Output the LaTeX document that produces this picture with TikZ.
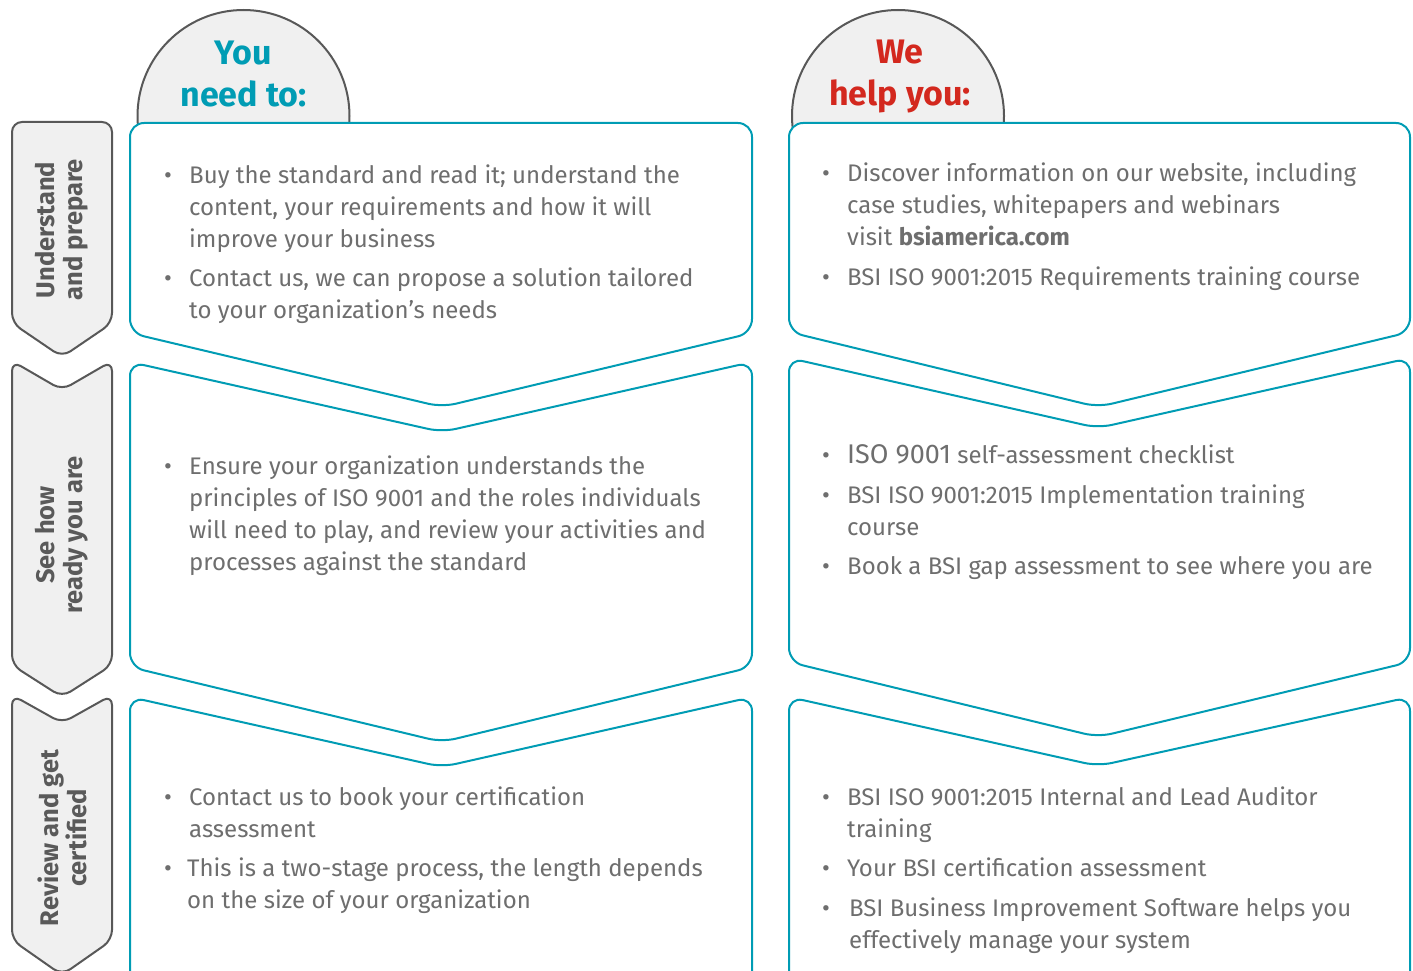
\documentclass[tikz,border=0pt]{standalone}
\usepackage{fontspec}
\setmainfont{Fira Sans}
\definecolor{teal}{RGB}{0,156,180}
\definecolor{bsired}{RGB}{211,40,30}
\definecolor{tabfill}{RGB}{240,240,240}
\definecolor{tabline}{RGB}{88,88,88}
\definecolor{bodygray}{RGB}{110,110,110}
\definecolor{labgray}{RGB}{90,90,90}
\tikzset{
  boxshape/.style={draw=teal, line width=2pt, fill=white, rounded corners=14pt},
  tabshape/.style={draw=tabline, line width=2pt, fill=tabfill, rounded corners=10pt},
  headcircle/.style={draw=tabline, line width=2pt, fill=tabfill},
  body/.style={font=\fontsize{24}{32}\selectfont, text=bodygray, inner sep=0pt, align=left, anchor=base west},
  bul/.style={font=\fontsize{24}{24}\selectfont, text=bodygray, inner sep=0pt, anchor=base},
  headtext/.style={font=\bfseries\fontsize{34}{43}\selectfont, inner sep=0pt, anchor=base},
  tablabel/.style={font=\bfseries\fontsize{25.5}{28}\selectfont, text=labgray, inner sep=0pt, align=center, rotate=90}
}
\begin{document}
\begin{tikzpicture}[x=1pt,y=-1pt]
\path[use as bounding box] (0,0) rectangle (1413,971);
\clip (0,0) rectangle (1413,971);
% header circles
\draw[headcircle] (243.5,116) circle (106);
\draw[headcircle] (898,116) circle (106);
% left column boxes
\draw[boxshape] (130,123) -- (752,123) -- (752,333) -- (442,407) -- (130,333) -- cycle;
\draw[boxshape] (130,362) -- (442,432) -- (752,362) -- (752,667) -- (442,742) -- (130,667) -- cycle;
\draw[boxshape] (130,697) -- (442,767) -- (752,697) -- (752,990) -- (130,990) -- cycle;
% right column boxes
\draw[boxshape] (789,123) -- (1410,123) -- (1410,332) -- (1098,407) -- (789,332) -- cycle;
\draw[boxshape] (789,358) -- (1098,428) -- (1410,358) -- (1410,662) -- (1098,737) -- (789,662) -- cycle;
\draw[boxshape] (789,697) -- (1098,766) -- (1410,697) -- (1410,990) -- (789,990) -- cycle;
% left tabs
\draw[tabshape] (12,122) -- (112,122) -- (112,323) -- (62,357) -- (12,323) -- cycle;
\draw[tabshape] (12,361) -- (62,390) -- (112,361) -- (112,665) -- (62,697) -- (12,665) -- cycle;
\draw[tabshape] (12,695) -- (62,723) -- (112,695) -- (112,940) -- (62,975) -- (12,940) -- cycle;
% tab labels
\node[tablabel] (t1) at (62,230) {Understand\\and prepare};
\node[tablabel] (t2) at (62,535) {See how\\ready you are};
\node[tablabel] (t3) at (62,838) {Review and get\\certified};
% header texts
\node[headtext, text=teal] (h1a) at (243.5,65) {You};
\node[headtext, text=teal] (h1b) at (243.5,107) {need to:};
\node[headtext, text=bsired] (h2a) at (900,64) {We};
\node[headtext, text=bsired] (h2b) at (900,106) {help you:};
% left box 1 (anchors at last-line baselines)
\node[bul] (b1) at (168,183) {•};
\node[body] (l1a) at (189,247) {Buy the standard and read it; understand the\\content, your requirements and how it will\\improve your business};
\node[bul] (b2) at (168,286) {•};
\node[body] (l1b) at (189,318) {Contact us, we can propose a solution tailored\\to your organization’s needs};
% left box 2
\node[bul] (b3) at (168,474) {•};
\node[body] (l2a) at (189,570) {Ensure your organization understands the\\principles of ISO 9001 and the roles individuals\\will need to play, and review your activities and\\processes against the standard};
% left box 3
\node[bul] (b4) at (168,805) {•};
\node[body] (l3a) at (189,837) {Contact us to book your certification\\assessment};
\node[bul] (b5) at (168,876) {•};
\node[body] (l3b) at (187,908) {This is a two-stage process, the length depends\\on the size of your organization};
% right box 1
\node[bul] (c1) at (826,181) {•};
\node[body] (r1a) at (847,245) {Discover information on our website, including\\case studies, whitepapers and webinars\\visit \textbf{bsiamerica.com}};
\node[bul] (c2) at (826,285) {•};
\node[body] (r1b) at (847,285) {BSI ISO 9001:2015 Requirements training course};
% right box 2
\node[bul] (c3) at (826,463) {•};
\node[body] (r2a) at (847,463) {{\fontsize{27}{32}\selectfont ISO 9001} self-assessment checklist};
\node[bul] (c4) at (826,503) {•};
\node[body] (r2b) at (847,535) {BSI ISO 9001:2015 Implementation training\\course};
\node[bul] (c5) at (826,574) {•};
\node[body] (r2c) at (847,574) {Book a BSI gap assessment to see where you are};
% right box 3
\node[bul] (c6) at (826,805) {•};
\node[body] (r3a) at (847,837) {BSI ISO 9001:2015 Internal and Lead Auditor\\training};
\node[bul] (c7) at (826,876) {•};
\node[body] (r3b) at (847,876) {Your BSI certification assessment};
\node[bul] (c8) at (826,916) {•};
\node[body] (r3c) at (849,948) {BSI Business Improvement Software helps you\\effectively manage your system};
\end{tikzpicture}
\end{document}
